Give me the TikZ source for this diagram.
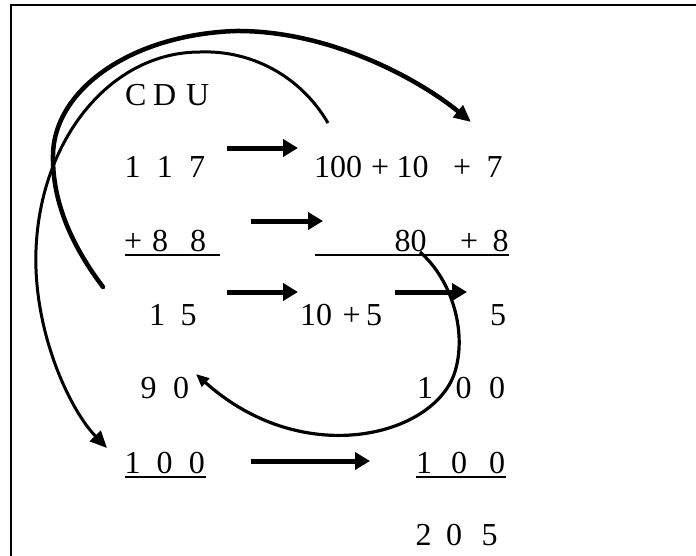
\documentclass[tikz,border=0pt]{standalone}
\usepackage{fontspec}
\setmainfont{Liberation Serif}
\usetikzlibrary{arrows.meta}
\newcommand\ch[1]{\makebox[0pt]{#1}}
\newcommand\gp[1]{\hspace{#1pt}}
\begin{document}
\begin{tikzpicture}[x=1pt,y=-1pt,
  txt/.style={anchor=base west,inner sep=0pt,font=\fontsize{32}{32}\selectfont},
  harrow/.style={line width=5pt,-{Triangle[length=15pt,width=17pt]}},
  uline/.style={line width=2pt},
  frame/.style={line width=1.6pt},
  bigarc/.style={line width=4.5pt,line cap=round,-{Triangle[length=17pt,width=15pt]}},
  thinarc/.style={line width=3pt,-{Triangle[length=17pt,width=15pt]}},
  backarc/.style={line width=3.2pt,-{Triangle[length=13pt,width=11pt]}}]
\useasboundingbox (0,0) rectangle (696,555);
\draw[frame] (10.7,560) -- (10.7,4.7) -- (700,4.7);

% text
\node[txt] (cdu) at (135.5,105) {\ch{C}\gp{29}\ch{D}\gp{33}\ch{U}};
\node[txt] (n117) at (132.5,177) {\ch{1}\gp{32.2}\ch{1}\gp{32.3}\ch{7}};
\node[txt] (n100107) at (338,177) {\ch{100}\gp{42}\ch{+}\gp{32.5}\ch{10}\gp{49.5}\ch{+}\gp{32.5}\ch{7}};
\node[txt] (n88) at (133,251) {\ch{+}\gp{27}\ch{8}\gp{38}\ch{8}};
\node[txt] (n808) at (410.5,251) {\ch{80}\gp{58.5}\ch{+}\gp{31.5}\ch{8}};
\node[txt] (n15) at (157,325) {\ch{1}\gp{31.5}\ch{5}};
\node[txt] (n105) at (316,325) {\ch{10}\gp{35.5}\ch{+}\gp{22.5}\ch{5}};
\node[txt] (n5) at (497.5,325) {\ch{5}};
\node[txt] (n90) at (148.5,398) {\ch{9}\gp{32.5}\ch{0}};
\node[txt] (n100a) at (425,398) {\ch{1}\gp{38.5}\ch{0}\gp{33.5}\ch{0}};
\node[txt] (n100b) at (132.5,473) {\ch{1}\gp{32}\ch{0}\gp{32.2}\ch{0}};
\node[txt] (n100c) at (424,473) {\ch{1}\gp{35}\ch{0}\gp{38}\ch{0}};
\node[txt] (n205) at (423.5,545) {\ch{2}\gp{30.5}\ch{0}\gp{35.5}\ch{5}};

% underlines
\draw[uline] (125,254.7) -- (220,254.7);
\draw[uline] (315,254.7) -- (509,254.7);
\draw[uline] (125,476.5) -- (206,476.5);
\draw[uline] (416,476.5) -- (506,476.5);

% horizontal arrows
\coordinate (a1s) at (227,148); \coordinate (a1e) at (298,148);
\coordinate (a2s) at (251,221); \coordinate (a2e) at (323,221);
\coordinate (a3s) at (227,292); \coordinate (a3e) at (298,292);
\coordinate (a4s) at (395,292); \coordinate (a4e) at (467,292);
\coordinate (a5s) at (251,461); \coordinate (a5e) at (370,461);
\draw[harrow] (a1s) -- (a1e);
\draw[harrow] (a2s) -- (a2e);
\draw[harrow] (a3s) -- (a3e);
\draw[harrow] (a4s) -- (a4e);
\draw[harrow] (a5s) -- (a5e);

% curved connectors
\coordinate (b0) at (103,287); \coordinate (b1) at (53,155);
\coordinate (b2) at (235,31);  \coordinate (b3) at (471,122);
\draw[bigarc] (b0) .. controls (75,250) and (52,205) .. (b1)
  .. controls (54,90) and (130,35) .. (b2)
  .. controls (330,30) and (420,80) .. (b3);

\coordinate (t0) at (328,123); \coordinate (t1) at (200,52);
\coordinate (t2) at (36,250);  \coordinate (t3) at (107,448);
\draw[thinarc] (t0) .. controls (300,75) and (250,50) .. (t1)
  .. controls (110,52) and (40,140) .. (t2)
  .. controls (33,332) and (70,410) .. (t3);

\coordinate (r0) at (420,252); \coordinate (r1) at (456,368);
\coordinate (r2) at (196,374);
\draw[backarc] (r0) .. controls (452,280) and (466,330) .. (r1)
  .. controls (440,435) and (305,472) .. (r2);
\end{tikzpicture}
\end{document}
